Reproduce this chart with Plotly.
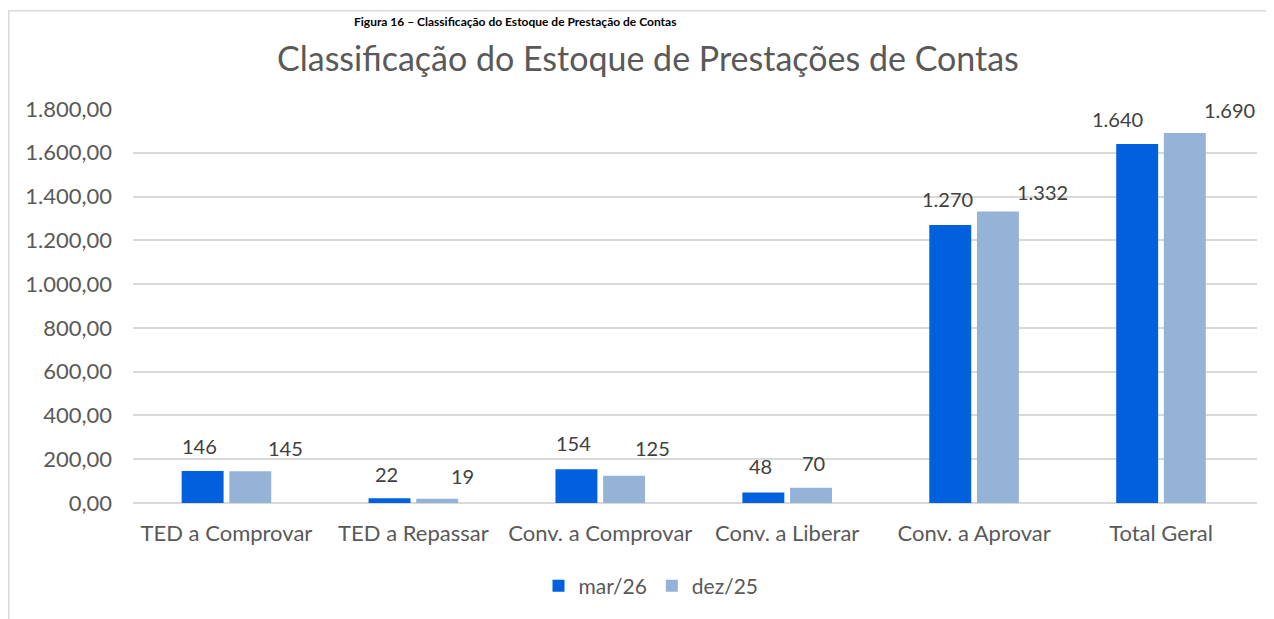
import plotly.graph_objects as go

categories = ["TED a Comprovar", "TED a Repassar", "Conv. a Comprovar",
              "Conv. a Liberar", "Conv. a Aprovar", "Total Geral"]
mar26 = [146, 22, 154, 48, 1270, 1640]
dez25 = [145, 19, 125, 70, 1332, 1690]
series_names = ["mar/26", "dez/25"]
y_ticks = [0, 200, 400, 600, 800, 1000, 1200, 1400, 1600, 1800]

COL_MAR = "#0060DD"
COL_DEZ = "#95B3D7"
GREY = "#595959"
FONT = "Lato"

# page is offset by the browser's 8px body margin
OFF = 8
W, H = 1274 - OFF, 619 - OFF
ML, MR, MT, MB = 133 - OFF, 17, 109 - OFF, 116
pw = W - ML - MR
ph = H - MT - MB


def px(p):
    return (p - OFF - ML) / pw


def py(p):
    return (H - MB - (p - OFF)) / ph


fig = go.Figure()
fig.add_trace(go.Bar(x=categories, y=mar26, name=series_names[0],
                     marker=dict(color=COL_MAR, line=dict(width=0))))
fig.add_trace(go.Bar(x=categories, y=dez25, name=series_names[1],
                     marker=dict(color=COL_DEZ, line=dict(width=0))))


def fmt(v):
    return f"{v:,}".replace(",", ".")


# label placement tweaks (pixels), mimicking the original chart's label layout
bar_off = 26.5
shift_mar = [(0, 25), (0, 24), (0, 26), (0, 26), (0, 26), (-17, 25)]
shift_dez = [(33, 23), (23, 23), (26, 28), (0, 25), (42, 19), (42, 23)]

annotations = []
for i, c in enumerate(categories):
    for vals, sh, sign in ((mar26, shift_mar, -1), (dez25, shift_dez, 1)):
        annotations.append(dict(
            x=c, y=vals[i], xref="x", yref="y", text=fmt(vals[i]),
            showarrow=False, xanchor="center", yanchor="middle",
            xshift=sign * bar_off + sh[i][0], yshift=sh[i][1],
            font=dict(family=FONT, size=20, color="#404040")))

# figure caption (cropped in the source; shown small at the top of the frame)
annotations.append(dict(
    text="<b>Figura 16 – Classificação do Estoque de Prestação de Contas</b>",
    xref="paper", yref="paper", x=px(515), y=py(21),
    xanchor="center", yanchor="middle", showarrow=False,
    font=dict(family=FONT, size=12, color="#000000")))

# title
annotations.append(dict(
    text="Classificação do Estoque de Prestações de Contas",
    xref="paper", yref="paper", x=px(648), y=py(57),
    xanchor="center", yanchor="middle", showarrow=False,
    font=dict(family=FONT, size=34, color=GREY)))

shapes = [
    dict(type="line", xref="paper", yref="paper", x0=px(8.8), x1=px(8.8),
         y0=py(10), y1=py(640), line=dict(color="#D9D9D9", width=1.5)),
    dict(type="line", xref="paper", yref="paper", x0=px(8.8), x1=px(1290),
         y0=py(10.8), y1=py(10.8), line=dict(color="#D9D9D9", width=1.5)),
]

fig.update_layout(
    width=W, height=H,
    margin=dict(l=ML, r=MR, t=MT, b=MB, pad=0),
    paper_bgcolor="white", plot_bgcolor="white",
    separators=",.",
    barmode="group", bargap=0.49, bargroupgap=0.12,
    showlegend=True,
    legend=dict(orientation="h", x=px(651), xanchor="center", y=py(586),
                yanchor="middle", font=dict(family=FONT, size=21, color=GREY),
                itemwidth=30, traceorder="normal"),
    annotations=annotations,
    shapes=shapes,
    font=dict(family=FONT, color=GREY),
)
fig.update_yaxes(range=[0, 1800], tickvals=y_ticks, tickformat=",.2f",
                 showgrid=True, gridcolor="#D9D9D9", gridwidth=1.5,
                 zeroline=True, zerolinecolor="#D9D9D9", zerolinewidth=1.5,
                 showline=False, ticks="", ticklabelstandoff=20,
                 tickfont=dict(family=FONT, size=22, color=GREY))
fig.update_xaxes(showgrid=False, showline=False, ticks="",
                 ticklabelstandoff=15,
                 tickfont=dict(family=FONT, size=22, color=GREY))

fig.write_html("out.html")
